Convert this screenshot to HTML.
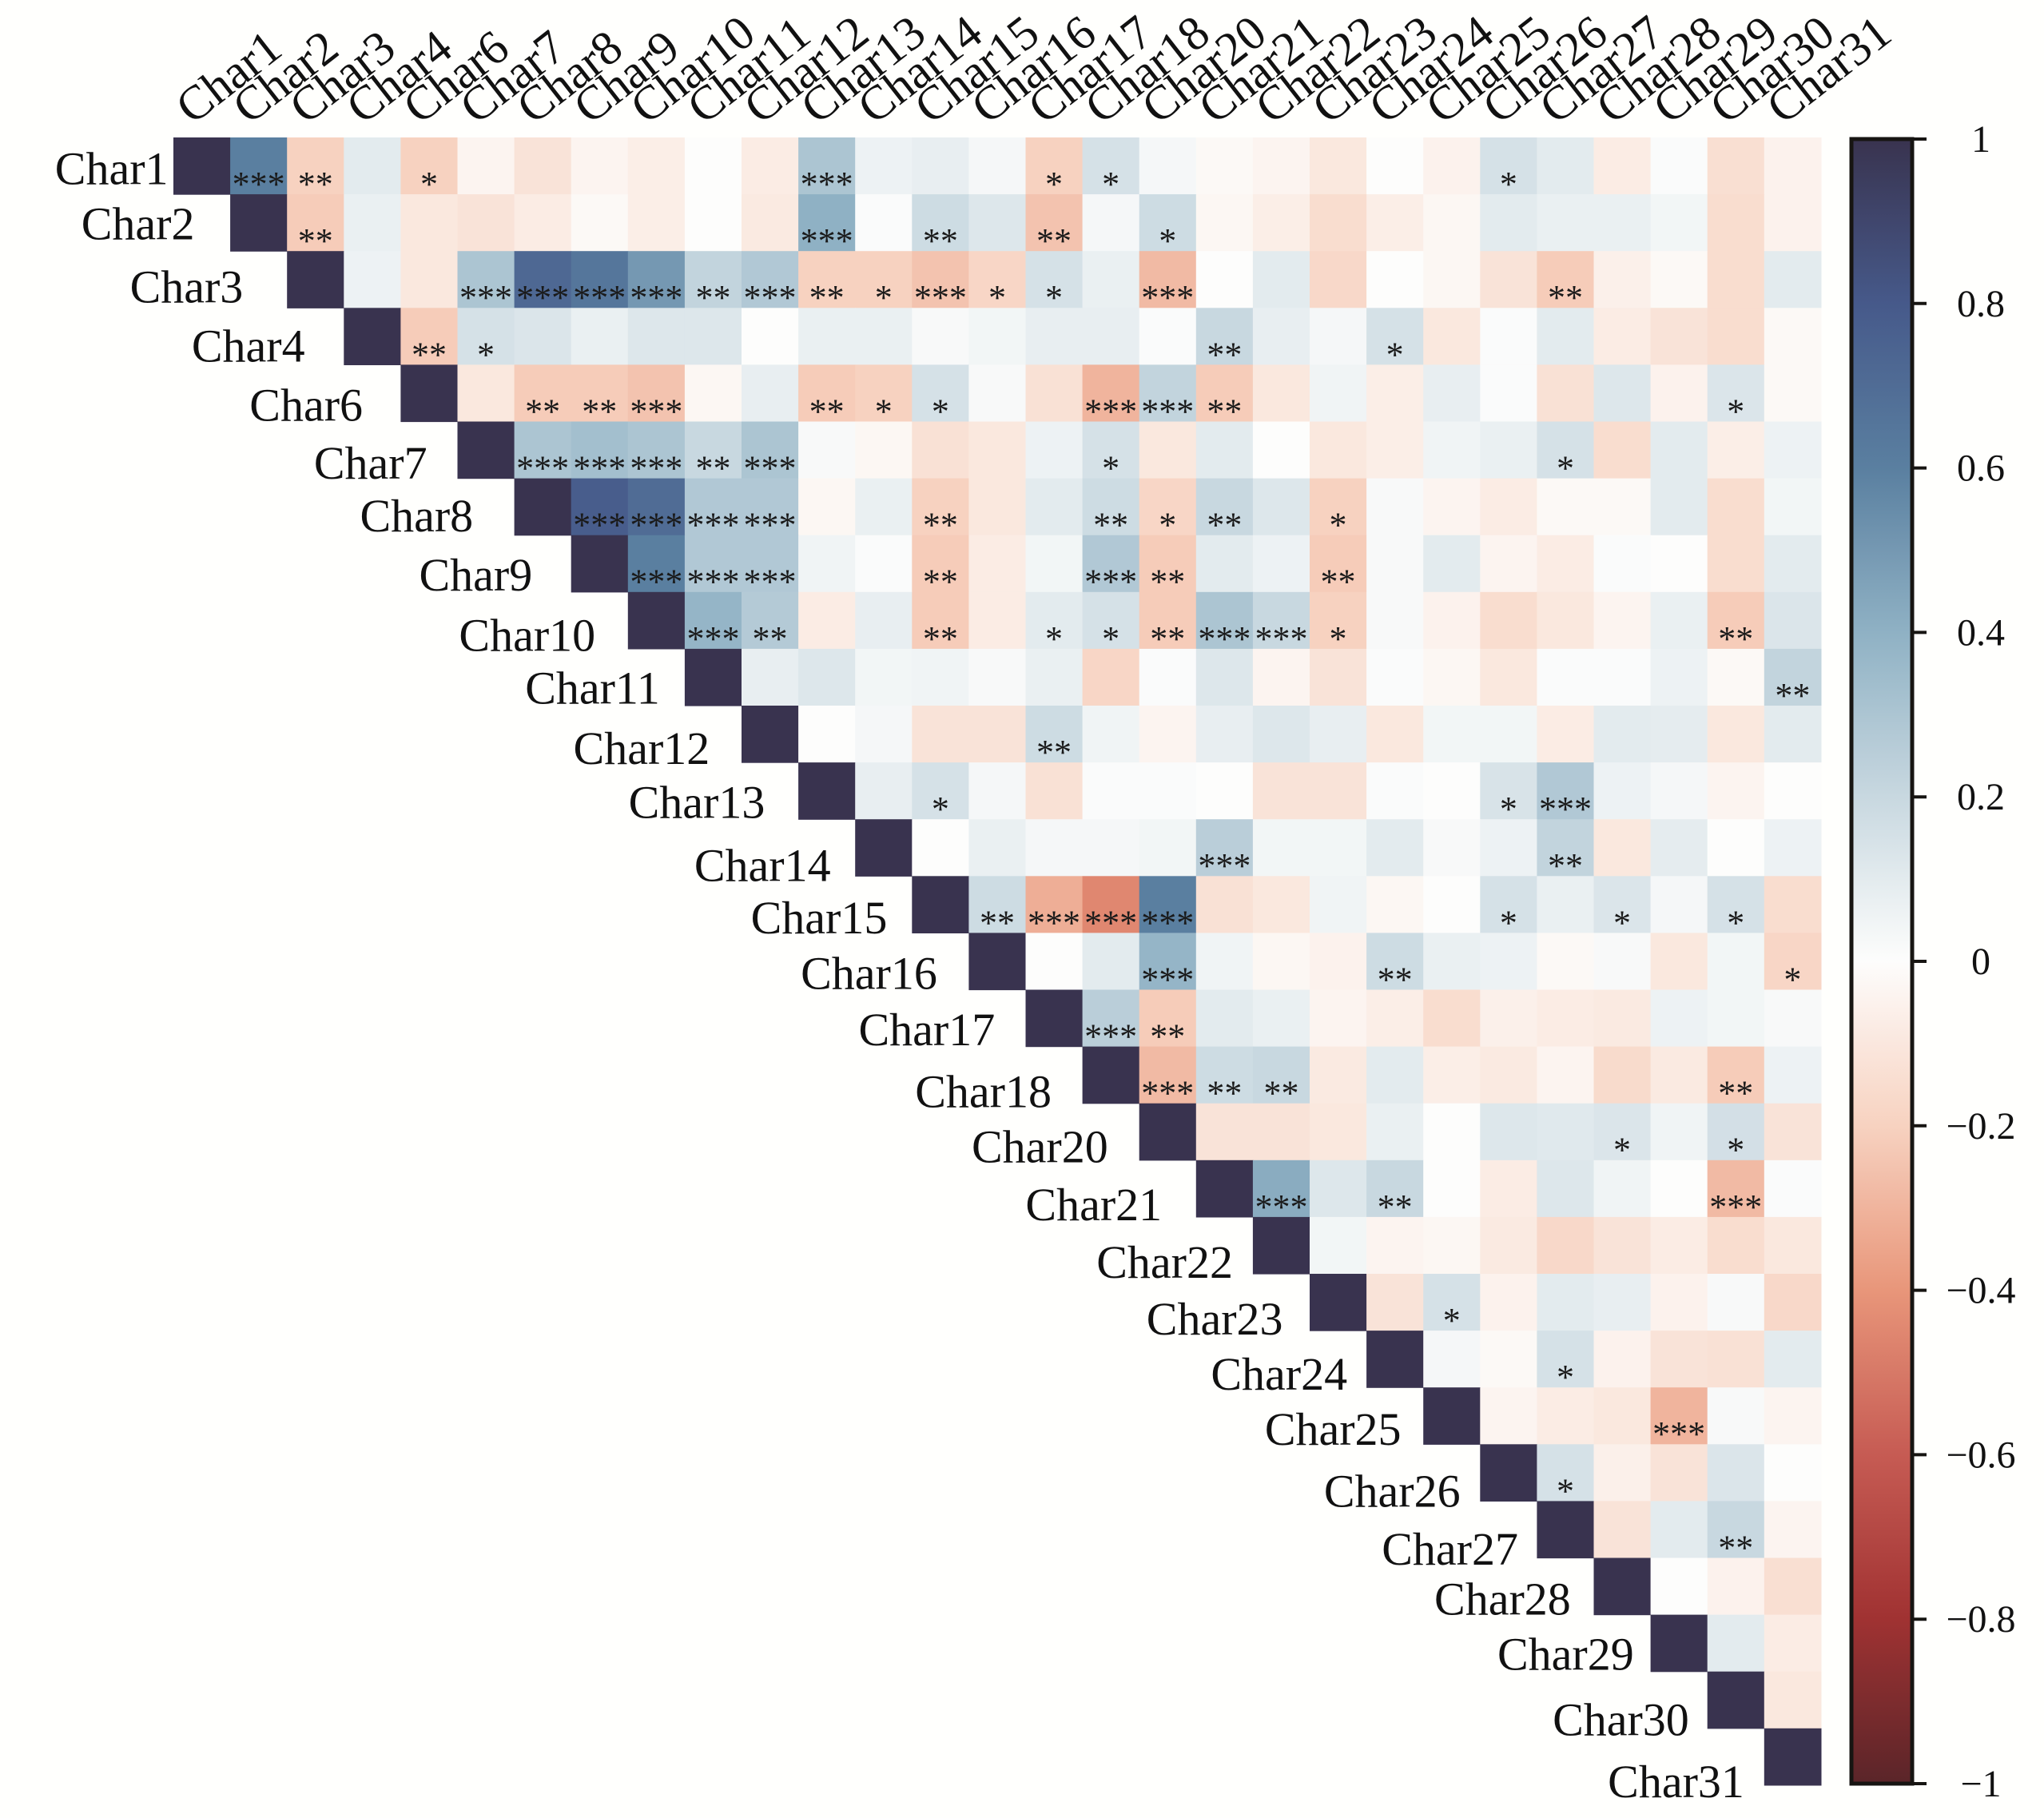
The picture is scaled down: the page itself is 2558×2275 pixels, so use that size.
<!DOCTYPE html>
<html><head><meta charset="utf-8"><style>
html,body{margin:0;padding:0;background:#fff;}
svg{display:block;font-family:"Liberation Serif",serif;}
</style></head><body>
<svg id="chart" width="2558" height="2275" viewBox="0 0 2558 2275" xmlns="http://www.w3.org/2000/svg">
<rect x="0" y="0" width="2558" height="2275" fill="#fffffd"/>
<g id="cells"></g>
<g id="stars"></g>
<g id="toplabels"></g>
<g id="rowlabels"></g>
<defs><linearGradient id="cbgrad" x1="0" y1="0" x2="0" y2="1"></linearGradient></defs>
<g id="colorbar"></g>
</svg>
<script>
const labels = ["Char1","Char2","Char3","Char4","Char6","Char7","Char8","Char9","Char10","Char11","Char12","Char13","Char14","Char15","Char16","Char17","Char18","Char20","Char21","Char22","Char23","Char24","Char25","Char26","Char27","Char28","Char29","Char30","Char31"];
// upper-triangle correlations: row r holds columns r+1..28
const corrRows = [
[0.6,-0.2,0.1,-0.2,-0.04,-0.12,-0.04,-0.07,0,-0.08,0.3,0.06,0.08,0.03,-0.2,0.15,0.03,-0.02,-0.04,-0.1,0,-0.05,0.15,0.1,-0.08,0.01,-0.14,-0.05],
[-0.22,0.07,-0.1,-0.12,-0.08,-0.02,-0.07,0,-0.09,0.4,0.01,0.18,0.12,-0.25,0.03,0.18,-0.03,-0.07,-0.15,-0.07,-0.03,0.1,0.07,0.07,0.04,-0.15,-0.05],
[0.06,-0.1,0.3,0.72,0.65,0.5,0.22,0.28,-0.2,-0.2,-0.25,-0.18,0.15,0.07,-0.28,0,0.1,-0.17,0,-0.03,-0.12,-0.22,-0.06,-0.02,-0.15,0.1],
[-0.22,0.15,0.13,0.07,0.12,0.12,0,0.07,0.07,0.02,0.04,0.08,0.08,0.01,0.2,0.08,0.03,0.15,-0.1,0.01,0.1,-0.08,-0.12,-0.15,-0.02],
[-0.1,-0.22,-0.22,-0.25,-0.03,0.08,-0.22,-0.2,0.15,0.02,-0.13,-0.3,0.22,-0.22,-0.1,0.05,-0.07,0.08,0.01,-0.13,0.12,-0.05,0.13,-0.02],
[0.3,0.33,0.3,0.2,0.3,0.02,-0.03,-0.13,-0.1,0.06,0.15,-0.1,0.1,0,-0.1,-0.07,0.05,0.07,0.15,-0.15,0.1,-0.07,0.06],
[0.78,0.7,0.28,0.28,-0.03,0.07,-0.2,-0.1,0.1,0.18,-0.18,0.2,0.12,-0.2,0.02,-0.04,-0.08,-0.02,-0.02,0.1,-0.15,0.04],
[0.6,0.28,0.28,0.05,0.01,-0.22,-0.08,0.04,0.28,-0.22,0.1,0.06,-0.22,0.02,0.1,-0.04,-0.08,0.01,0,-0.15,0.1],
[0.38,0.27,-0.08,0.08,-0.22,-0.08,0.1,0.15,-0.22,0.3,0.2,-0.2,0.02,-0.05,-0.15,-0.1,-0.04,0.07,-0.22,0.13],
[0.08,0.12,0.04,0.05,0.02,0.07,-0.18,0.01,0.12,-0.04,-0.12,0.01,-0.03,-0.1,0.01,0.01,0.06,-0.02,0.22],
[0,0.03,-0.12,-0.12,0.18,0.05,-0.04,0.08,0.12,0.08,-0.1,0.04,0.04,-0.08,0.1,0.09,-0.1,0.1],
[0.08,0.15,0.03,-0.13,0.01,0.01,0,-0.12,-0.12,0.01,0,0.14,0.28,0.06,0.03,-0.04,0],
[0,0.07,0.03,0.03,0.04,0.25,0.04,0.04,0.1,0.02,0.06,0.22,-0.1,0.09,0,0.06],
[0.18,-0.32,-0.45,0.6,-0.13,-0.1,0.05,-0.03,0,0.15,0.07,0.13,0.03,0.15,-0.15],
[0,0.1,0.38,0.05,-0.03,-0.05,0.18,0.07,0.06,-0.02,0.02,-0.1,0.04,-0.18],
[0.25,-0.22,0.1,0.07,-0.04,-0.07,-0.15,-0.06,-0.08,-0.09,0.06,0.04,0.02],
[-0.28,0.18,0.2,-0.09,0.1,-0.07,-0.09,-0.04,-0.16,-0.09,-0.22,0.06],
[-0.12,-0.12,-0.1,0.07,0,0.12,0.11,0.13,0.05,0.16,-0.12],
[0.42,0.12,0.2,0,-0.08,0.12,0.05,0,-0.28,0.01],
[0.04,-0.04,-0.03,-0.09,-0.17,-0.12,-0.08,-0.15,-0.1],
[-0.12,0.15,-0.05,0.1,0.08,-0.05,0.02,-0.17],
[0.03,-0.02,0.15,-0.05,-0.12,-0.13,0.1],
[-0.04,-0.08,-0.1,-0.3,0.02,-0.04],
[0.15,-0.06,-0.12,0.13,0],
[-0.12,0.1,0.2,-0.04],
[0,-0.05,-0.14],
[0.1,-0.08],
[-0.1]
];
// significance level (number of stars) per cell, same layout as corrRows
const sigRows = [
[3,2,0,1,0,0,0,0,0,0,3,0,0,0,1,1,0,0,0,0,0,0,1,0,0,0,0,0],
[2,0,0,0,0,0,0,0,0,3,0,2,0,2,0,1,0,0,0,0,0,0,0,0,0,0,0],
[0,0,3,3,3,3,2,3,2,1,3,1,1,0,3,0,0,0,0,0,0,2,0,0,0,0],
[2,1,0,0,0,0,0,0,0,0,0,0,0,0,2,0,0,1,0,0,0,0,0,0,0],
[0,2,2,3,0,0,2,1,1,0,0,3,3,2,0,0,0,0,0,0,0,0,1,0],
[3,3,3,2,3,0,0,0,0,0,1,0,0,0,0,0,0,0,1,0,0,0,0],
[3,3,3,3,0,0,2,0,0,2,1,2,0,1,0,0,0,0,0,0,0,0],
[3,3,3,0,0,2,0,0,3,2,0,0,2,0,0,0,0,0,0,0,0],
[3,2,0,0,2,0,1,1,2,3,3,1,0,0,0,0,0,0,2,0],
[0,0,0,0,0,0,0,0,0,0,0,0,0,0,0,0,0,0,2],
[0,0,0,0,2,0,0,0,0,0,0,0,0,0,0,0,0,0],
[0,1,0,0,0,0,0,0,0,0,0,1,3,0,0,0,0],
[0,0,0,0,0,3,0,0,0,0,0,2,0,0,0,0],
[2,3,3,3,0,0,0,0,0,1,0,1,0,1,0],
[0,0,3,0,0,0,2,0,0,0,0,0,0,1],
[3,2,0,0,0,0,0,0,0,0,0,0,0],
[3,2,2,0,0,0,0,0,0,0,2,0],
[0,0,0,0,0,0,0,1,0,1,0],
[3,0,2,0,0,0,0,0,3,0],
[0,0,0,0,0,0,0,0,0],
[0,1,0,0,0,0,0,0],
[0,0,1,0,0,0,0],
[0,0,0,3,0,0],
[1,0,0,0,0],
[0,0,2,0],
[0,0,0],
[0,0],
[0]
];
const cbTicks = [1,0.8,0.6,0.4,0.2,0,-0.2,-0.4,-0.6,-0.8,-1];

const NS = "http://www.w3.org/2000/svg";
const X0 = 217, Y0 = 172, CS = 71.1;
const colorStops = [[-1,[90,37,41]],[-0.8,[160,50,50]],[-0.6,[198,91,83]],[-0.4,[232,150,122]],[-0.2,[247,210,192]],[0,[253,253,252]],[0.2,[200,216,224]],[0.4,[143,177,196]],[0.6,[90,127,160]],[0.8,[70,89,138]],[1,[57,51,79]]];
function color(v){
  v=Math.max(-1,Math.min(1,v));
  for(let i=0;i<colorStops.length-1;i++){
    const a=colorStops[i],b=colorStops[i+1];
    if(v>=a[0]&&v<=b[0]){const t=(v-a[0])/(b[0]-a[0]);
      const c=a[1].map((x,k)=>Math.round(x+(b[1][k]-x)*t));return `rgb(${c[0]},${c[1]},${c[2]})`;}
  }
  return "#fff";
}
function xPos(c){return X0+c*CS;}
function yPos(r){return Y0+r*CS;}
function mk(tag,attrs,parent){const e=document.createElementNS(NS,tag);for(const k in attrs)e.setAttribute(k,attrs[k]);parent.appendChild(e);return e;}

const gCells=document.getElementById('cells'), gStars=document.getElementById('stars');
const n=labels.length;
for(let r=0;r<n;r++){
  const d=mk('rect',{x:xPos(r),y:yPos(r),width:CS+0.6,height:CS+0.6,fill:color(1)},gCells);
  
  
  const vals=corrRows[r]||[], sigs=sigRows[r]||[];
  vals.forEach((v,i)=>{
    const c=r+1+i;
    const e=mk('rect',{x:xPos(c),y:yPos(r),width:CS+0.6,height:CS+0.6,fill:color(v)},gCells);
    
    
    const s=sigs[i]||0;
    if(s>0){
      const t=mk('text',{x:xPos(c)+CS/2,y:yPos(r)+73,'text-anchor':'middle','font-size':44,fill:'#1a1a1a'},gStars);
      t.textContent='*'.repeat(s);
      
      
    }
  });
}
// column labels
const gTop=document.getElementById('toplabels');
labels.forEach((l,c)=>{
  const x=xPos(c)+CS/2-12, y=157;
  const t=mk('text',{x:x,y:y,'font-size':60,fill:'#111',transform:`rotate(-38 ${x} ${y})`},gTop);
  t.textContent=l;
  
  
});
// row labels (positions read from the layout)
const rowLabelRight=[128,148,185,232,276,325,360,405,453,502,540,582,632,675,713,757,800,843,884,938,976,1025,1066,1111,1155,1195,1243,1285,1327];
const rowLabelMid=[128,170,218,263,308,352,392,437,483,523,569,610,658,698,740,783,830,872,916,960,1003,1045,1087,1134,1178,1216,1258,1308,1355];
const gRow=document.getElementById('rowlabels');
labels.forEach((l,r)=>{
  const t=mk('text',{x:rowLabelRight[r]*1.645,y:rowLabelMid[r]*1.645+20,'text-anchor':'end','font-size':58,fill:'#111'},gRow);
  t.textContent=l;
  
  
});
// colorbar
const grad=document.getElementById('cbgrad');
for(let i=0;i<=40;i++){const v=1-i/20;mk('stop',{offset:(i/40),'stop-color':color(v)},grad);}
const gCb=document.getElementById('colorbar');
const CBT=174, CBB=2232, CBL=2317, CBR=2393;
const bar=mk('rect',{x:CBL,y:CBT,width:CBR-CBL,height:CBB-CBT,fill:'url(#cbgrad)',stroke:'#171512','stroke-width':5},gCb);


function cbY(v){return CBT+(1-v)/2*(CBB-CBT);}
cbTicks.forEach(v=>{
  const y=cbY(v);
  const tk=mk('line',{x1:CBR,x2:CBR+18,y1:y,y2:y,stroke:'#171512','stroke-width':4},gCb);
  
  
  const t=mk('text',{x:2479,y:y+16,'text-anchor':'middle','font-size':48,fill:'#111'},gCb);
  t.textContent=(v<0?'\u2212':'')+String(Math.abs(v));
  
  
});
</script>
</body></html>
